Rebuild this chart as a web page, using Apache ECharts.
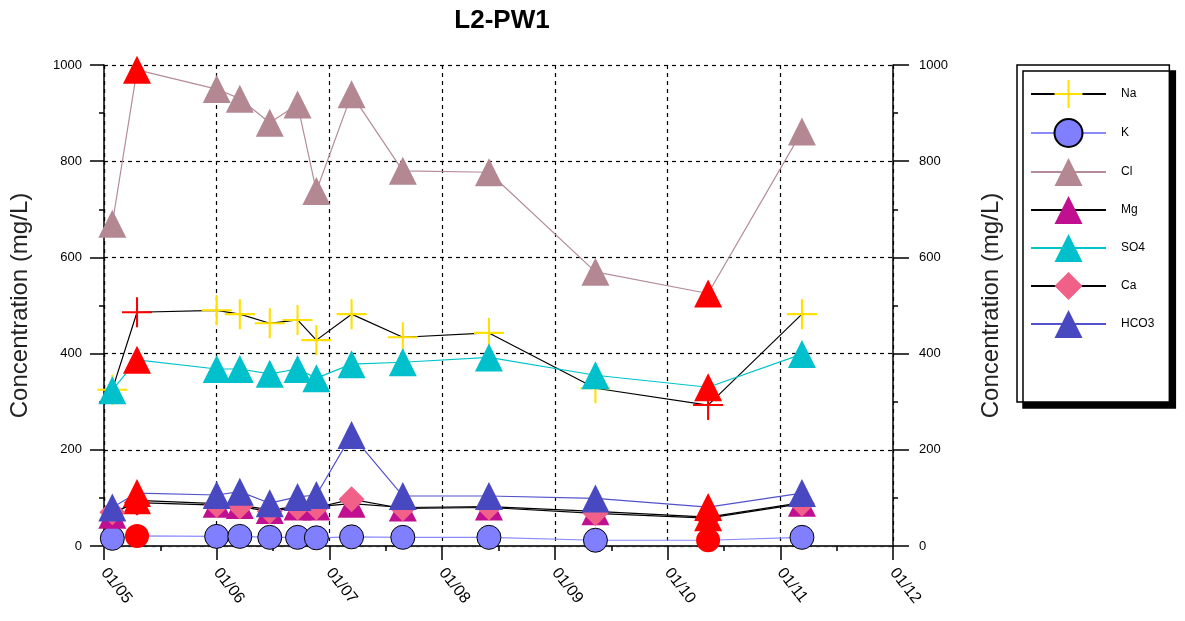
<!DOCTYPE html>
<html>
<head>
<meta charset="utf-8">
<title>L2-PW1</title>
<script src="https://cdn.jsdelivr.net/npm/echarts@6.0.0/dist/echarts.min.js"></script>
<style>
  html, body { margin: 0; padding: 0; background: #fff; }
  #chart { width: 1185px; height: 621px; }
</style>
</head>
<body>
<div id="chart"></div>
<script>
// sample dates
var dates = ['2005-01-28', '2005-04-18', '2006-01-01', '2006-03-17', '2006-06-22', '2006-09-20',
  '2006-11-20', '2007-03-14', '2007-08-27', '2008-06-01', '2009-05-12', '2010-05-12', '2011-03-12'];

// concentrations, mg/L
var na   = [325, 486, 490, 482, 463, 470, 428, 482, 434, 443, 328, 293, 482];
var k    = [16, 21, 20, 20, 18, 18, 17, 19, 18, 18, 12, 12, 18];
var cl   = [670, 990, 950, 930, 880, 918, 738, 939, 780, 777, 570, 525, 862];
var mg   = [65, 95, 88, 85, 75, 82, 82, 88, 80, 82, 72, 60, 90];
var so4  = [324, 387, 368, 368, 358, 368, 349, 378, 382, 392, 355, 330, 399];
var ca   = [70, 90, 85, 82, 72, 80, 80, 97, 78, 80, 68, 58, 88];
var hco3 = [80, 110, 106, 113, 89, 102, 106, 231, 104, 104, 99, 81, 110];

// samples drawn in red
var flagged = [1, 11];

var crossPath = 'path://M-0.7,-10H0.7V-0.7H10V0.7H0.7V10H-0.7V0.7H-10V-0.7H-0.7Z';
var font = 'Arial, "Liberation Sans", sans-serif';

function makeData(values) {
  return values.map(function (v, i) {
    if (flagged.indexOf(i) >= 0) {
      return { value: [dates[i], v], itemStyle: { color: '#ff0000', borderWidth: 0 } };
    }
    return [dates[i], v];
  });
}

function makeSeries(name, values, lineColor, symbol, fill, size, border) {
  return {
    name: name,
    type: 'line',
    data: makeData(values),
    symbol: symbol,
    symbolSize: size,
    showAllSymbol: true,
    lineStyle: { color: lineColor, width: 1.2 },
    itemStyle: {
      color: fill,
      borderColor: border ? '#000' : fill,
      borderWidth: border ? 1 : 0
    },
    emphasis: { disabled: true }
  };
}

var chart = echarts.init(document.getElementById('chart'));

var yearMs = 365 * 24 * 3600 * 1000;

var option = {
  animation: false,
  backgroundColor: '#fff',
  title: {
    text: 'L2-PW1',
    left: 497,
    top: 3,
    textAlign: 'center',
    textStyle: { fontFamily: font, fontSize: 26, fontWeight: 'bold', color: '#000' }
  },
  grid: { left: 103, right: 292, top: 65, bottom: 75 },
  legend: {
    orient: 'vertical',
    left: 1017,
    top: 65,
    itemWidth: 75,
    itemHeight: 35,
    itemGap: 10,
    padding: [15, 15, 64, 13],
    backgroundColor: '#fff',
    borderColor: '#000',
    borderWidth: 1.5,
    borderRadius: 0,
    shadowColor: '#000',
    shadowOffsetX: 6,
    shadowOffsetY: 6,
    shadowBlur: 0,
    selectedMode: false,
    textStyle: { fontFamily: font, fontSize: 12, color: '#000', padding: [0, 0, 0, 10] }
  },
  xAxis: [{
    type: 'time',
    position: 'bottom',
    min: '2005-01-01',
    max: '2012-01-01',
    splitNumber: 7,
    minInterval: yearMs,
    maxInterval: yearMs + 24 * 3600 * 1000,
    axisLine: { lineStyle: { color: '#000', width: 1.5 } },
    axisTick: { show: true, inside: false, length: 14, lineStyle: { color: '#000', width: 1.5 } },
    minorTick: { show: true, splitNumber: 2, length: 5, lineStyle: { color: '#000', width: 1.5 } },
    axisLabel: {
      formatter: '{MM}/{yy}',
      rotate: -52,
      margin: 24,
      fontFamily: font,
      fontSize: 16,
      color: '#000',
      showMinLabel: true,
      showMaxLabel: true
    },
    splitLine: { show: true, lineStyle: { color: '#000', type: [4, 4], width: 1.2 } }
  }, {
    type: 'time',
    position: 'top',
    min: '2005-01-01',
    max: '2012-01-01',
    splitNumber: 7,
    minInterval: yearMs,
    maxInterval: yearMs + 24 * 3600 * 1000,
    axisLine: { show: true, lineStyle: { color: '#333', width: 1.5 } },
    axisTick: { show: true, inside: true, length: 5, lineStyle: { color: '#000', width: 1.5 } },
    axisLabel: { show: false },
    splitLine: { show: false }
  }],
  yAxis: [{
    type: 'value',
    position: 'left',
    min: 0,
    max: 1000,
    interval: 200,
    name: 'Concentration (mg/L)',
    nameLocation: 'middle',
    nameRotate: 90,
    nameGap: 72,
    nameTextStyle: { fontFamily: font, fontSize: 24, color: '#222' },
    axisLine: { show: true, lineStyle: { color: '#000', width: 1.5 } },
    axisTick: { show: true, inside: false, length: 14, lineStyle: { color: '#000', width: 1.5 } },
    minorTick: { show: true, splitNumber: 2, length: 5, lineStyle: { color: '#000', width: 1.5 } },
    axisLabel: { margin: 22, fontFamily: font, fontSize: 13, color: '#000', formatter: function (v) { return String(v); } },
    splitLine: { show: true, lineStyle: { color: '#000', type: [4, 4], width: 1.2 } }
  }, {
    type: 'value',
    position: 'right',
    min: 0,
    max: 1000,
    interval: 200,
    name: 'Concentration (mg/L)',
    nameLocation: 'middle',
    nameRotate: 90,
    nameGap: 86,
    nameTextStyle: { fontFamily: font, fontSize: 24, color: '#222' },
    axisLine: { show: true, lineStyle: { color: '#000', width: 1.5 } },
    axisTick: { show: true, inside: false, length: 16, lineStyle: { color: '#000', width: 1.5 } },
    minorTick: { show: true, splitNumber: 2, length: 5, lineStyle: { color: '#000', width: 1.5 } },
    axisLabel: { margin: 26, fontFamily: font, fontSize: 13, color: '#000', formatter: function (v) { return String(v); } },
    splitLine: { show: false }
  }],
  series: [
    makeSeries('Na', na, '#000000', crossPath, '#ffe000', 30, false),
    makeSeries('K', k, '#8a8aff', 'circle', '#7f7fff', 24, true),
    makeSeries('Cl', cl, '#b48c98', 'triangle', '#b38892', 28, false),
    makeSeries('Mg', mg, '#000000', 'triangle', '#c0108f', 28, false),
    makeSeries('SO4', so4, '#00c4cc', 'triangle', '#00c0cc', 28, false),
    makeSeries('Ca', ca, '#000000', 'diamond', '#f06088', 26, false),
    makeSeries('HCO3', hco3, '#5252cc', 'triangle', '#4848c0', 28, false)
  ]
};

chart.setOption(option);
</script>
</body>
</html>
